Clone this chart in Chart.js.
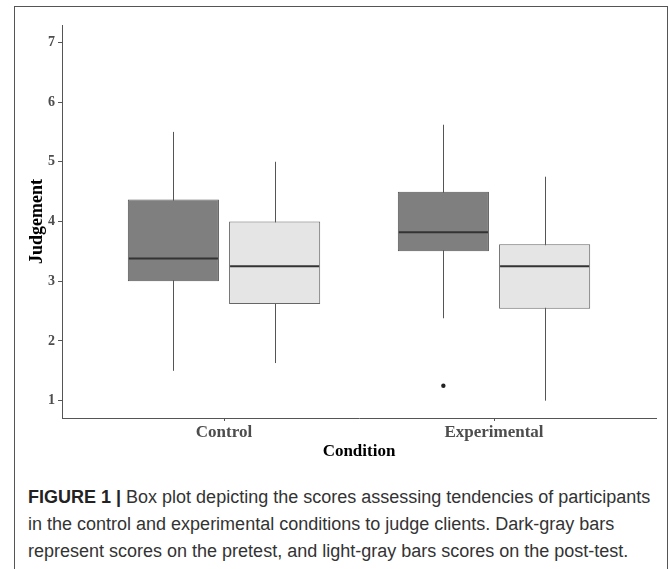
<!DOCTYPE html>
<html>
<head>
<meta charset="utf-8">
<script src="https://cdn.jsdelivr.net/npm/chart.js@4"></script>
<style>
  html, body { margin: 0; padding: 0; background: #fff; overflow: hidden; }
  body { width: 669px; height: 569px; position: relative; }
  #frame {
    position: absolute; left: 14px; top: 6px; width: 652px; height: 600px;
    border: 1px solid #555; border-bottom: none;
  }
  #grafico { position: absolute; left: 14px; top: 6px; }
  #legenda {
    position: absolute; left: 28px; top: 484px; width: 640px;
    font-family: "Liberation Sans", Arial, sans-serif; font-size: 18px;
    line-height: 27px; color: #333; white-space: nowrap;
  }
  #legenda b { color: #222; }
</style>
</head>
<body>
<div id="frame"></div>
<canvas id="grafico" width="653" height="460"></canvas>
<div id="legenda">
  <b>FIGURE 1 |</b> Box plot depicting the scores assessing tendencies of participants<br>
  in the control and experimental conditions to judge clients. Dark-gray bars<br>
  represent scores on the pretest, and light-gray bars scores on the post-test.
</div>
<script>
// Dados
const condicoes = ['Control', 'Experimental'];
const posicoes = [1, 2];
const yTicks = [1, 2, 3, 4, 5, 6, 7];

// pré-teste (cinza escuro)
const preMin = [1.5, 2.38];
const preQ1 = [3.0, 3.5];
const preMediana = [3.38, 3.82];
const preQ3 = [4.37, 4.5];
const preMax = [5.5, 5.62];
const preOutliers = [[], [1.25]];

// pós-teste (cinza claro)
const posMin = [1.63, 1.0];
const posQ1 = [2.62, 2.54];
const posMediana = [3.25, 3.25];
const posQ3 = [4.0, 3.62];
const posMax = [5.0, 4.75];
const posOutliers = [[], []];

const serif = '"Liberation Serif", "Times New Roman", serif';

// Plugin para desenhar bigodes, medianas e outliers
const boxPlugin = {
    id: 'boxWhiskers',
    beforeDatasetsDraw(chart) {
        const ctx = chart.ctx;
        const y = chart.scales.y;
        chart.data.datasets.forEach((ds, i) => {
            const meta = chart.getDatasetMeta(i);
            meta.data.forEach((bar, j) => {
                ctx.save();
                ctx.strokeStyle = '#555';
                ctx.lineWidth = 1;
                const x = Math.round(bar.x) + 0.5;
                ctx.beginPath();
                ctx.moveTo(x, y.getPixelForValue(ds.stats.max[j]));
                ctx.lineTo(x, y.getPixelForValue(ds.stats.min[j]));
                ctx.stroke();
                ctx.restore();
            });
        });
    },
    afterDatasetsDraw(chart) {
        const ctx = chart.ctx;
        const y = chart.scales.y;
        chart.data.datasets.forEach((ds, i) => {
            const meta = chart.getDatasetMeta(i);
            meta.data.forEach((bar, j) => {
                ctx.save();
                ctx.strokeStyle = '#333';
                ctx.lineWidth = 2;
                const ym = y.getPixelForValue(ds.stats.mediana[j]);
                ctx.beginPath();
                ctx.moveTo(bar.x - bar.width / 2 + 1, ym);
                ctx.lineTo(bar.x + bar.width / 2 - 1, ym);
                ctx.stroke();
                ctx.fillStyle = '#222';
                ds.stats.outliers[j].forEach(v => {
                    ctx.beginPath();
                    ctx.arc(bar.x, y.getPixelForValue(v), 2.2, 0, Math.PI * 2);
                    ctx.fill();
                });
                ctx.restore();
            });
        });
    }
};

new Chart(document.getElementById('grafico'), {
    type: 'bar',
    data: {
        datasets: [{
            label: 'Pretest',
            data: posicoes.map((x, i) => ({ x: x, y: [preQ1[i], preQ3[i]] })),
            backgroundColor: '#7f7f7f',
            borderColor: '#555',
            borderWidth: 1,
            borderSkipped: false,
            stats: { min: preMin, max: preMax, mediana: preMediana, outliers: preOutliers }
        }, {
            label: 'Post-test',
            data: posicoes.map((x, i) => ({ x: x, y: [posQ1[i], posQ3[i]] })),
            backgroundColor: '#e5e5e5',
            borderColor: '#666',
            borderWidth: 1,
            borderSkipped: false,
            stats: { min: posMin, max: posMax, mediana: posMediana, outliers: posOutliers }
        }]
    },
    options: {
        responsive: false,
        animation: false,
        devicePixelRatio: 1,
        categoryPercentage: 0.75,
        barPercentage: 0.9,
        layout: { padding: { left: 0, right: 11, top: 19, bottom: 0 } },
        plugins: {
            legend: { display: false },
            tooltip: { enabled: false }
        },
        scales: {
            x: {
                type: 'linear',
                min: 0.4,
                max: 2.6,
                offset: false,
                afterBuildTicks: (scale) => { scale.ticks = posicoes.map(v => ({ value: v })); },
                afterFit: (scale) => { scale.height = 48; },
                grid: { display: true, drawOnChartArea: false, drawTicks: true, tickLength: 3, color: '#555', offset: false },
                border: { display: true, color: '#555', width: 1 },
                ticks: {
                    autoSkip: false,
                    maxRotation: 0,
                    padding: 1,
                    color: '#4d4d4d',
                    font: { family: serif, size: 17, weight: 'bold' },
                    callback: (v) => condicoes[posicoes.indexOf(v)]
                },
                title: {
                    display: true,
                    text: 'Condition',
                    color: '#000',
                    font: { family: serif, size: 17, weight: 'bold' },
                    padding: { top: 0, bottom: 4 }
                }
            },
            y: {
                min: 0.71,
                max: 7.29,
                beginAtZero: false,
                afterBuildTicks: (scale) => { scale.ticks = yTicks.map(v => ({ value: v })); },
                afterFit: (scale) => { scale.width = 48; },
                grid: { display: true, drawOnChartArea: false, drawTicks: true, tickLength: 4, color: '#555' },
                border: { display: true, color: '#555', width: 1 },
                ticks: {
                    padding: 3,
                    color: '#4d4d4d',
                    font: { family: serif, size: 14, weight: 'bold' }
                },
                title: {
                    display: true,
                    text: 'Judgement',
                    color: '#000',
                    font: { family: serif, size: 18, weight: 'bold' },
                    padding: { top: 13, bottom: 0 }
                }
            }
        }
    },
    plugins: [boxPlugin]
});
</script>
</body>
</html>
